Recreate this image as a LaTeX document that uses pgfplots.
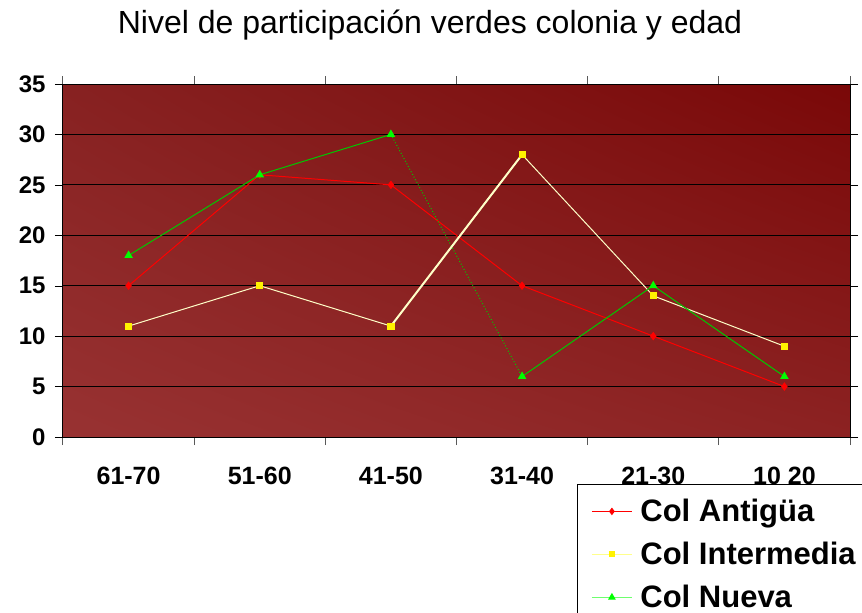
\documentclass[border=0pt]{standalone}
\usepackage{pgfplots}
\pgfplotsset{compat=1.18}
\usetikzlibrary{shadings}
\usepackage{fontspec}
\setmainfont{Liberation Sans}
\definecolor{cream}{RGB}{255,255,200}
\definecolor{grn}{RGB}{0,200,0}
\definecolor{grnm}{RGB}{0,255,0}
\definecolor{lgrn}{RGB}{110,255,110}
\definecolor{lyel}{RGB}{255,255,140}
\definecolor{bgll}{RGB}{152,50,50}
\definecolor{bgul}{RGB}{135,33,33}
\definecolor{bglr}{RGB}{140,34,34}
\definecolor{bgur}{RGB}{122,8,8}
\begin{document}
\begin{tikzpicture}[x=1pt,y=1pt]
\useasboundingbox (-63,-176) rectangle (799,437);
\node[font=\fontsize{32}{36}\selectfont, anchor=base] at (367,403) {Nivel de participación verdes colonia y edad};
\begin{axis}[at={(0,0)}, anchor=south west, scale only axis, width=787pt, height=353pt,
  xmin=0.5, xmax=6.5, ymin=0, ymax=35,
  xtick={1,...,6}, xticklabels={61-70,51-60,41-50,31-40,21-30,10 20},
  major x tick style={draw=none},
  minor xtick={0.5,1.5,...,6.5},
  minor x tick style={draw=gray!70!black, line width=1pt},
  ytick={0,5,...,35},
  ymajorgrids, grid style={black, line width=0.9pt},
  tick align=outside, major tick length=8pt, minor tick length=8pt,
  y tick style={black},
  axis line style={black, line width=1pt},
  /pgf/number format/assume math mode=true,
  xticklabel style={font=\bfseries\fontsize{25}{28}\selectfont, anchor=base, yshift=-39pt},
  yticklabel style={font=\bfseries\fontsize{24}{28}\selectfont, xshift=-6pt},
  axis background/.style={lower left=bgll, upper left=bgul, lower right=bglr, upper right=bgur},
  legend style={at={(rel axis cs:0.653,-0.133)}, anchor=north west, draw=black, line width=1pt, fill=white,
     font=\bfseries\fontsize{31}{34}\selectfont, row sep=15pt, inner xsep=14pt, inner ysep=13pt,
     nodes={inner sep=2pt}},
  legend cell align=left,
  legend image code/.code={\draw[mark repeat=2,mark phase=2,#1] plot coordinates {(0pt,0pt)(20pt,0pt)(40pt,0pt)};},
  /tikz/every odd column/.append style={column sep=6pt},
]
\addlegendimage{red, line width=1pt, mark=diamond*, mark size=3pt, mark options={fill=red,draw=red}}
\addlegendentry{Col Antigüa}
\addlegendimage{lyel, line width=1pt, mark=square*, mark size=2.5pt, mark options={fill=yellow,draw=yellow}}
\addlegendentry{Col Intermedia}
\addlegendimage{lgrn, line width=1pt, mark=triangle*, mark size=3.5pt, mark options={fill=grnm,draw=grnm}}
\addlegendentry{Col Nueva}
\addplot[red, line width=1pt, mark=diamond*, mark size=3.5pt, mark options={fill=red,draw=red}, forget plot]
  coordinates {(1,15)(2,26)(3,25)(4,15)(5,10)(6,5)};
\addplot[cream, line width=1pt, mark=square*, mark size=3pt, mark options={fill=yellow,draw=yellow}, forget plot]
  coordinates {(1,11)(2,15)(3,11)(4,28)(5,14)(6,9)};
\addplot[grn, line width=1pt, mark=triangle*, mark size=4pt, mark options={fill=grnm,draw=grnm}, forget plot]
  coordinates {(1,18)(2,26)(3,30)};
\addplot[grn, line width=1pt, dotted, forget plot] coordinates {(3,30)(4,6)};
\addplot[grn, line width=1pt, mark=triangle*, mark size=4pt, mark options={fill=grnm,draw=grnm}, forget plot]
  coordinates {(4,6)(5,15)(6,6)};
\addplot[cream, line width=2pt, forget plot] coordinates {(3,11)(4,28)};
\addplot[only marks, mark=square*, mark size=3pt, mark options={fill=yellow,draw=yellow}, forget plot]
  coordinates {(3,11)(4,28)};
\end{axis}
\end{tikzpicture}
\end{document}
